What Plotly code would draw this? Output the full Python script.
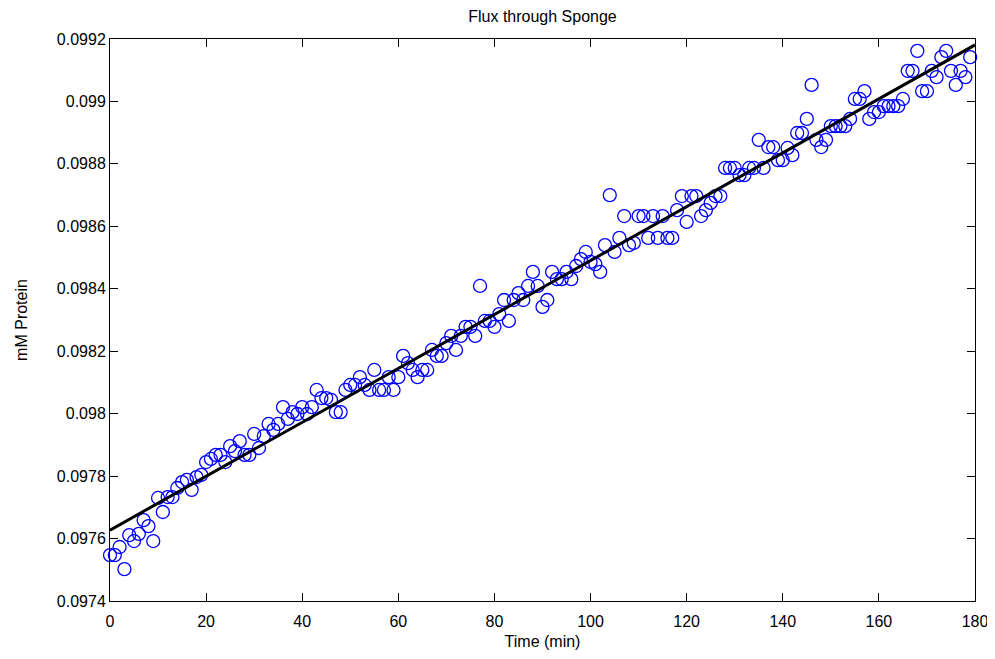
import plotly.graph_objects as go

time_min = list(range(0, 180))
protein_mM = [
    0.097547, 0.097547, 0.097573, 0.097502, 0.097611, 0.097592, 0.097615, 0.097659, 0.097640, 0.097592,
    0.097730, 0.097685, 0.097733, 0.097733, 0.097762, 0.097781, 0.097788, 0.097756, 0.097797, 0.097804,
    0.097845, 0.097855, 0.097868, 0.097868, 0.097845, 0.097896, 0.097880, 0.097912, 0.097868, 0.097868,
    0.097935, 0.097890, 0.097928, 0.097967, 0.097948, 0.097967, 0.098021, 0.097983, 0.098005, 0.097999,
    0.098021, 0.097999, 0.098021, 0.098076, 0.098050, 0.098050, 0.098044, 0.098005, 0.098005, 0.098076,
    0.098092, 0.098092, 0.098117, 0.098092, 0.098076, 0.098140, 0.098076, 0.098076, 0.098117, 0.098076,
    0.098117, 0.098185, 0.098162, 0.098140, 0.098117, 0.098140, 0.098140, 0.098204, 0.098185, 0.098185,
    0.098226, 0.098249, 0.098204, 0.098249, 0.098278, 0.098278, 0.098249, 0.098409, 0.098297, 0.098297,
    0.098278, 0.098319, 0.098364, 0.098297, 0.098364, 0.098386, 0.098364, 0.098409, 0.098454, 0.098409,
    0.098342, 0.098364, 0.098454, 0.098431, 0.098431, 0.098454, 0.098431, 0.098473, 0.098495, 0.098518,
    0.098486, 0.098479, 0.098454, 0.098540, 0.098700, 0.098518, 0.098563, 0.098633, 0.098540, 0.098547,
    0.098633, 0.098633, 0.098563, 0.098633, 0.098563, 0.098633, 0.098563, 0.098563, 0.098652, 0.098697,
    0.098614, 0.098697, 0.098697, 0.098633, 0.098652, 0.098675, 0.098697, 0.098697, 0.098787, 0.098787,
    0.098787, 0.098764, 0.098764, 0.098787, 0.098787, 0.098877, 0.098787, 0.098854, 0.098854, 0.098812,
    0.098812, 0.098851, 0.098828, 0.098899, 0.098899, 0.098944, 0.099053, 0.098877, 0.098854, 0.098877,
    0.098921, 0.098921, 0.098921, 0.098921, 0.098944, 0.099008, 0.099008, 0.099033, 0.098944, 0.098966,
    0.098966, 0.098985, 0.098985, 0.098985, 0.098985, 0.099008, 0.099098, 0.099098, 0.099162, 0.099033,
    0.099033, 0.099098, 0.099078, 0.099142, 0.099162, 0.099098, 0.099053, 0.099098, 0.099078, 0.099142,
]

fit_time = [0, 180]
fit_protein = [0.097627, 0.099181]

x_ticks = [0, 20, 40, 60, 80, 100, 120, 140, 160, 180]
y_tick_vals = [0.0974, 0.0976, 0.0978, 0.0980, 0.0982, 0.0984, 0.0986, 0.0988, 0.0990, 0.0992]
y_tick_text = ["0.0974", "0.0976", "0.0978", "0.098", "0.0982", "0.0984", "0.0986", "0.0988", "0.099", "0.0992"]

fig = go.Figure()
fig.add_trace(go.Scatter(
    x=time_min, y=protein_mM, mode="markers",
    marker=dict(symbol="circle-open", size=13, color="#0000ff", line=dict(width=1.3, color="#0000ff")),
    showlegend=False, cliponaxis=False,
))
fig.add_trace(go.Scatter(
    x=fit_time, y=fit_protein, mode="lines",
    line=dict(color="black", width=3), showlegend=False,
))

font_family = "Liberation Sans, Arial, sans-serif"
W, H = 987, 643
fig.update_layout(
    width=W, height=H,
    margin=dict(l=102, r=20, t=31, b=50),
    paper_bgcolor="white", plot_bgcolor="white",
    font=dict(family=font_family, size=16, color="black"),
    title=dict(text="Flux through Sponge", x=(102 + 967) / 2 / W, xanchor="center",
               y=1 - 8 / H, yanchor="middle",
               font=dict(size=16, family=font_family, color="black")),
)
fig.update_xaxes(
    range=[0, 180], tickvals=x_ticks, ticks="inside", ticklen=8, tickcolor="black",
    showline=True, linecolor="black", linewidth=1, mirror="ticks", showgrid=False, zeroline=False,
    ticklabelstandoff=6, automargin=False,
    title=dict(text="Time (min)", standoff=6, font=dict(size=16)),
    tickfont=dict(size=16),
)
fig.update_yaxes(
    range=[0.0974, 0.0992], tickvals=y_tick_vals, ticktext=y_tick_text, ticks="inside", ticklen=8,
    tickcolor="black", showline=True, linecolor="black", linewidth=1, mirror="ticks",
    showgrid=False, zeroline=False, automargin=False,
    title=dict(text="mM Protein", standoff=25, font=dict(size=16)),
    tickfont=dict(size=16),
)

fig.write_html("out.html")
